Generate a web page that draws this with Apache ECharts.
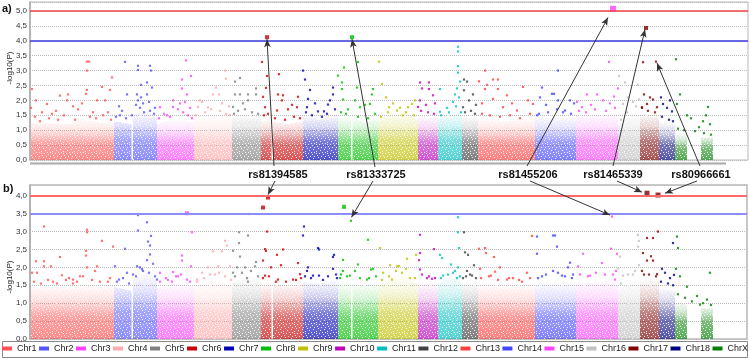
<!DOCTYPE html>
<html>
<head>
<meta charset="utf-8">
<script src="https://cdn.jsdelivr.net/npm/echarts@6/dist/echarts.min.js"></script>
<style>
  html, body { margin: 0; padding: 0; background: #fff; }
  #chart { width: 750px; height: 359px; }
</style>
</head>
<body>
<div id="chart"></div>
<script>
// chromosome names and colours
const chromosomes = ['Chr1', 'Chr2', 'Chr3', 'Chr4', 'Chr5', 'Chr6', 'Chr7', 'Chr8', 'Chr9', 'Chr10',
  'Chr11', 'Chr12', 'Chr13', 'Chr14', 'Chr15', 'Chr16', 'Chr17', 'Chr18', 'ChrX']
const chrColors = ['#ff5050', '#5555ff', '#ff44ff', '#ffaaaa', '#808080', '#cc0000', '#0000bb', '#00c000', '#c0c000', '#c000c0',
  '#00c0c0', '#404040', '#ff4040', '#4444ff', '#ff44ff', '#c0c0c0', '#800000', '#000080', '#008000']

// dense low -log10(P) band, [position, upper height] ('-' = gap)
const bandA = [
  [[1, 1.25], [40, 1.2], [55, 1.4], [70, 1.25], [84, 1.25]],
  [[84, 1.3], [101.5, 1.2], [102, '-'], [103, 1.5], [115, 1.7], [127, 1.4]],
  [[127, 1.2], [145, 1.4], [164, 1.25]],
  [[164, 1.3], [185, 1.55], [202, 1.4]],
  [[202, 1.4], [220, 1.6], [231, 1.4]],
  [[231, 1.3], [241.5, 1.4], [242, '-'], [243, 1.3], [258, 1.2], [273, 1.3]],
  [[273, 1.5], [290, 1.35], [308, 1.55]],
  [[308, 1.4], [321, 1.5], [321.5, '-'], [322.5, 1.4], [335, 1.25], [348, 1.4]],
  [[348, 1.3], [368, 1.7], [388, 1.35]],
  [[388, 1.5], [408, 1.4]],
  [[408, 1.35], [428, 1.7], [432, 1.45]],
  [[432, 1.5], [448, 1.5]],
  [[448, 1.4], [475, 1.3], [505, 1.4]],
  [[505, 1.4], [530, 1.5], [546, 1.4]],
  [[546, 1.5], [570, 1.5], [588, 1.6]],
  [[588, 1.15], [600, 1.5], [610, 1.7]],
  [[610, 1.6], [629, 1.5]],
  [[629, 1.3], [645, 1.15]],
  [[645, 0.95], [657, 0.85], [658, '-'], [671, 0.75], [683, 0.75]]
]
const bandB = [
  [[1, 1.45], [40, 1.45], [56, 1.55], [84, 1.45]],
  [[84, 1.45], [101.5, 1.35], [102, '-'], [103, 1.65], [116, 1.9], [127, 1.6]],
  [[127, 1.45], [145, 1.6], [164, 1.45]],
  [[164, 1.45], [185, 1.7], [202, 1.55]],
  [[202, 1.55], [220, 1.8], [231, 1.6]],
  [[231, 1.55], [241.5, 1.6], [242, '-'], [243, 1.55], [258, 1.45], [273, 1.55]],
  [[273, 1.6], [290, 1.55], [308, 1.7]],
  [[308, 1.6], [321, 1.6], [321.5, '-'], [322.5, 1.55], [335, 1.55], [348, 1.6]],
  [[348, 1.45], [368, 1.8], [388, 1.55]],
  [[388, 1.6], [408, 1.55]],
  [[408, 1.55], [428, 1.8], [432, 1.55]],
  [[432, 1.6], [448, 1.6]],
  [[448, 1.55], [475, 1.55], [505, 1.55]],
  [[505, 1.55], [530, 1.6], [546, 1.6]],
  [[546, 1.6], [570, 1.6], [588, 1.7]],
  [[588, 1.35], [600, 1.6], [610, 1.8]],
  [[610, 1.7], [629, 1.6]],
  [[629, 1.45], [645, 1.35]],
  [[645, 1.1], [657, 0.95], [658, '-'], [671, 0.85], [683, 0.85]]
]

// scattered SNPs above the band, panel a
const pointsA = [
  [[57, 3.3], [59, 3.3], [57, 3.0], [2, 2.38], [6, 2.0], [30, 2.16], [38, 2.2], [37, 2.0], [56, 2.22], [57, 2.35], [72, 2.45], [80, 2.35], [82, 2.77], [17, 1.88], [22, 1.55], [43, 1.8], [67, 2.0], [75, 2.0], [1, 1.75], [12, 1.6], [26, 1.65], [48, 1.7], [63, 1.6], [78, 1.6], [52, 1.9]],
  [[95, 3.29], [108, 3.16], [108, 3.02], [120, 3.16], [121, 3.0], [117, 2.6], [111, 2.52], [122, 2.43], [97, 2.2], [107, 2.2], [108, 2.0], [111, 2.1], [89, 1.8], [117, 2.2], [125, 1.75], [102, 1.5], [113, 1.9], [119, 1.95], [106, 1.85], [92, 1.65]],
  [[156, 3.34], [161, 2.82], [152, 2.7], [152, 2.4], [157, 2.2], [143, 2.0], [143, 1.78], [130, 1.77], [137, 1.5], [160, 1.75], [150, 1.9], [155, 1.95], [148, 1.7]],
  [[195, 3.0], [196, 2.73], [186, 2.43], [183, 2.2], [189, 2.2], [170, 2.0], [168, 1.78], [172, 1.95], [178, 1.77], [192, 1.9], [199, 1.8]],
  [[205, 2.63], [210, 2.75], [205, 2.2], [210, 2.2], [218, 2.2], [203, 1.78], [226, 2.4], [218, 2.0], [226, 2.2], [213, 1.9]],
  [[232, 3.29], [237, 2.82], [249, 2.88], [236, 2.42], [233, 2.12], [248, 2.2], [253, 2.17], [268, 2.12], [252, 2.0], [267, 1.77], [235, 1.77], [247, 1.66], [258, 1.7], [262, 1.85]],
  [[273, 3.0], [275, 2.7], [280, 2.35], [278, 2.05], [303, 2.43], [303, 2.2], [298, 1.86], [288, 1.63], [294, 1.63], [277, 1.77], [285, 1.9], [300, 2.0]],
  [[328, 3.29], [314, 3.1], [308, 2.83], [312, 2.6], [312, 2.38], [327, 2.43], [343, 2.38], [342, 2.2], [325, 2.0], [313, 2.03], [330, 1.77], [340, 1.88], [318, 1.7], [335, 1.85]],
  [[349, 3.3], [352, 2.55], [356, 2.1], [359, 1.77], [378, 1.77], [382, 1.88], [367, 1.66], [373, 1.5], [363, 1.9], [385, 2.0]],
  [[390, 2.6], [399, 2.6], [399, 2.38], [392, 2.4], [390, 2.0], [403, 2.17], [388, 1.78], [396, 1.85], [405, 1.9]],
  [[428, 3.8], [428, 3.64], [428, 3.15], [428, 2.93], [425, 2.2], [430, 2.63], [410, 2.38], [423, 1.95], [417, 1.75], [410, 1.62], [427, 2.4], [429, 2.1]],
  [[434, 2.7], [437, 2.63], [434, 2.34], [443, 2.2], [439, 2.0], [433, 1.77], [446, 1.85]],
  [[455, 3.0], [449, 2.64], [457, 2.52], [455, 2.38], [468, 2.7], [468, 2.38], [463, 2.7], [493, 2.45], [463, 2.05], [477, 2.17], [498, 2.0], [503, 1.88], [473, 1.77], [487, 1.66], [452, 1.9], [482, 1.9]],
  [[528, 3.0], [512, 2.43], [522, 2.22], [524, 2.22], [510, 2.1], [528, 2.0], [540, 2.0], [535, 1.66], [507, 1.5], [516, 1.85], [544, 1.9]],
  [[579, 3.29], [584, 2.13], [588, 2.4], [557, 2.2], [567, 2.2], [547, 1.95], [573, 2.0], [552, 1.77], [561, 1.85], [580, 1.9]],
  [[589, 2.82], [595, 2.6], [608, 2.52], [598, 2.1], [609, 2.03], [593, 1.88], [603, 1.95]],
  [[613, 3.28], [626, 3.3], [614, 2.2], [623, 2.03], [617, 1.88], [612, 1.77], [627, 1.77], [620, 2.1]],
  [[631, 2.1], [642, 1.63], [633, 1.88], [640, 2.0], [637, 1.75]],
  [[646, 3.38], [650, 2.2], [647, 1.88], [678, 1.78], [657, 1.5], [673, 1.3], [680, 1.2], [665, 0.97], [661, 1.4], [669, 1.1], [676, 1.5]]
]
// SNPs just above the dense band, panel a
const fringeA = [
  [[5, 1.45], [10, 1.3], [19, 1.4], [28, 1.35], [34, 1.5], [45, 1.35], [60, 1.45], [66, 1.4], [73, 1.5], [81, 1.35]],
  [[86, 1.45], [90, 1.5], [96, 1.4], [110, 1.75], [114, 1.6], [120, 1.65], [124, 1.55]],
  [[129, 1.4], [134, 1.55], [140, 1.45], [153, 1.6], [158, 1.5], [162, 1.4]],
  [[166, 1.5], [175, 1.6], [181, 1.7], [190, 1.65], [196, 1.55], [200, 1.5]],
  [[204, 1.55], [208, 1.65], [215, 1.7], [222, 1.6], [228, 1.55]],
  [[234, 1.5], [238, 1.55], [245, 1.4], [255, 1.35], [264, 1.45], [270, 1.4]],
  [[276, 1.6], [282, 1.5], [292, 1.45], [297, 1.55], [305, 1.7]],
  [[311, 1.6], [316, 1.55], [328, 1.45], [338, 1.4], [345, 1.55]],
  [[351, 1.45], [358, 1.6], [370, 1.75], [376, 1.6], [384, 1.5]],
  [[391, 1.65], [398, 1.6], [404, 1.55]],
  [[411, 1.5], [419, 1.6], [426, 1.8], [431, 1.6]],
  [[435, 1.6], [441, 1.65], [445, 1.55]],
  [[452, 1.55], [460, 1.5], [470, 1.45], [480, 1.5], [490, 1.4], [500, 1.55]],
  [[509, 1.55], [518, 1.6], [527, 1.7], [533, 1.6], [541, 1.55]],
  [[549, 1.65], [556, 1.6], [565, 1.7], [576, 1.65], [585, 1.75]],
  [[591, 1.35], [597, 1.6], [606, 1.8]],
  [[612, 1.75], [618, 1.65], [625, 1.6]],
  [[632, 1.45], [639, 1.35], [643, 1.3]],
  [[648, 1.05], [654, 1.0], [674, 0.9], [681, 0.85]]
]
// scattered SNPs above the band, panel b
const pointsB = [
  [[14, 3.14], [57, 3.05], [57, 2.98], [72, 2.74], [83, 2.58], [30, 2.29], [56, 2.46], [56, 2.33], [6, 2.17], [14, 2.17], [14, 2.03], [21, 2.03], [2, 1.85], [7, 1.85], [32, 1.78], [57, 2.0], [67, 2.03], [65, 1.9], [23, 1.6], [43, 1.66], [43, 1.55], [78, 1.6], [50, 1.75], [36, 1.65]],
  [[108, 3.46], [117, 3.26], [108, 3.03], [95, 2.52], [118, 2.72], [120, 2.61], [117, 2.2], [120, 2.36], [121, 2.88], [85, 2.03], [107, 2.03], [110, 2.0], [123, 2.1], [97, 1.85], [89, 1.66], [127, 1.66], [113, 1.9], [103, 1.8]],
  [[162, 2.98], [152, 2.33], [152, 2.19], [161, 2.03], [143, 1.87], [130, 1.85], [157, 1.66], [142, 1.6], [136, 1.7], [148, 1.75]],
  [[195, 2.74], [197, 2.61], [183, 2.45], [192, 2.45], [188, 2.03], [178, 2.0], [172, 1.85], [200, 2.03], [167, 1.66], [185, 1.8]],
  [[219, 3.49], [209, 2.98], [209, 2.68], [203, 2.46], [218, 2.89], [210, 2.3], [207, 2.0], [215, 2.0], [203, 1.85], [218, 1.6], [226, 2.15], [225, 2.03], [217, 1.7]],
  [[237, 3.0], [235, 2.51], [236, 2.46], [233, 2.19], [253, 2.5], [247, 2.35], [268, 2.12], [270, 1.81], [251, 2.06], [241, 2.0], [235, 1.77], [248, 1.66], [263, 1.66]],
  [[274, 3.14], [273, 2.89], [288, 2.54], [289, 2.5], [304, 2.35], [303, 2.29], [278, 2.0], [277, 1.9], [283, 1.77], [289, 1.77], [303, 1.96], [307, 1.7]],
  [[321, 3.3], [338, 2.77], [313, 2.21], [328, 2.08], [325, 1.9], [343, 1.96], [341, 1.94], [313, 1.9], [320, 1.77], [337, 1.66], [310, 1.7]],
  [[350, 2.54], [377, 2.24], [386, 2.35], [367, 2.03], [360, 2.06], [369, 2.04], [376, 1.96], [353, 1.85], [362, 1.66], [380, 1.7]],
  [[390, 2.91], [390, 2.4], [404, 2.51], [389, 2.2], [390, 1.94], [402, 1.68], [397, 1.7]],
  [[428, 3.4], [428, 2.98], [429, 2.54], [410, 2.35], [412, 2.26], [421, 2.08], [428, 2.0], [423, 1.85], [413, 1.77], [427, 1.7]],
  [[434, 2.98], [435, 2.42], [438, 2.35], [444, 2.06], [437, 1.9], [442, 1.77], [433, 1.7]],
  [[449, 2.52], [455, 2.54], [456, 2.4], [464, 2.29], [450, 1.96], [461, 1.77], [465, 1.88], [502, 2.88], [497, 1.85], [483, 1.7], [492, 1.6], [477, 1.66], [470, 2.0]],
  [[507, 2.86], [523, 2.89], [525, 2.89], [527, 2.58], [507, 2.38], [538, 2.0], [540, 2.13], [523, 1.9], [512, 1.75], [532, 1.77], [543, 1.8]],
  [[582, 3.42], [581, 2.52], [572, 2.12], [587, 2.38], [583, 1.8], [585, 1.66], [553, 2.38], [548, 2.03], [560, 1.77]],
  [[608, 2.91], [609, 2.74], [608, 2.58], [590, 2.3], [588, 1.97], [609, 2.06], [593, 1.77], [603, 1.8]],
  [[628, 3.0], [623, 2.82], [617, 2.82], [613, 2.4], [621, 2.31], [617, 2.19], [623, 2.19], [614, 1.8], [627, 1.81]],
  [[643, 2.68], [632, 1.96], [635, 1.85], [640, 1.7], [644, 1.79]],
  [[647, 2.86], [648, 2.54], [646, 1.96], [650, 1.75], [657, 1.46], [680, 1.85], [667, 1.2], [677, 1.1], [670, 0.96], [662, 1.05]]
]
// SNPs just above the dense band, panel b
const fringeB = [
  [[4, 1.6], [11, 1.55], [18, 1.65], [27, 1.55], [39, 1.7], [47, 1.6], [53, 1.75], [62, 1.65], [70, 1.6], [80, 1.7]],
  [[87, 1.6], [93, 1.7], [99, 1.55], [106, 1.75], [112, 1.95], [119, 1.85], [125, 1.75]],
  [[130, 1.6], [138, 1.65], [146, 1.75], [151, 1.8], [160, 1.6]],
  [[167, 1.6], [174, 1.7], [180, 1.8], [189, 1.85], [195, 1.75], [201, 1.65]],
  [[205, 1.75], [212, 1.85], [221, 1.9], [228, 1.75]],
  [[233, 1.7], [239, 1.75], [246, 1.6], [256, 1.6], [266, 1.65], [271, 1.7]],
  [[275, 1.75], [281, 1.7], [293, 1.65], [298, 1.75], [306, 1.8]],
  [[311, 1.8], [317, 1.75], [330, 1.7], [339, 1.7], [346, 1.75]],
  [[352, 1.65], [359, 1.75], [366, 1.9], [372, 1.85], [385, 1.7]],
  [[392, 1.8], [399, 1.75], [405, 1.7]],
  [[411, 1.7], [418, 1.8], [425, 1.9], [430, 1.75]],
  [[436, 1.75], [440, 1.8], [446, 1.7]],
  [[451, 1.7], [459, 1.75], [468, 1.65], [479, 1.7], [489, 1.65], [500, 1.7]],
  [[508, 1.7], [516, 1.8], [528, 1.85], [535, 1.75], [542, 1.7]],
  [[550, 1.8], [558, 1.75], [566, 1.85], [575, 1.8], [586, 1.9]],
  [[591, 1.55], [598, 1.8], [605, 1.9]],
  [[612, 1.9], [619, 1.8], [626, 1.75]],
  [[631, 1.6], [638, 1.55], [643, 1.5]],
  [[648, 1.25], [655, 1.15], [673, 1.0], [681, 0.95]]
]

// highlighted SNPs: chromosome index + [position, -log10(P)]
const hitsAChr = [5, 7, 14, 16]
const hitsA = [[237, 4.12], [322, 4.12], [583, 5.07], [616, 4.43]]
const hitsBChr = [5, 5, 7, 2, 16, 16]
const hitsB = [[238, 3.95], [233, 3.67], [314, 3.69], [157, 3.51], [617, 4.07], [628, 4.02]]

// annotated SNPs and the point each arrow reaches in a) and b)
const snpNames = ['rs81394585', 'rs81333725', 'rs81455206', 'rs81465339', 'rs80966661']
const snpTargetA = [[237, 4.05], [322, 4.05], [578, 4.78], [615, 4.38], [627, 3.25]]
const snpTargetB = [[238, 4.03], [321.5, 3.4], [580, 3.46], [612, 4.1], [635, 4.07]]

// significance thresholds [red, blue]
const thresholdA = [5.0, 4.0]
const thresholdB = [4.0, 3.5]

function rgba(hex, a) {
  let n = parseInt(hex.slice(1), 16)
  return 'rgba(' + (n >> 16 & 255) + ',' + (n >> 8 & 255) + ',' + (n & 255) + ',' + a + ')'
}

// small white-speck tile laid over the dense bands, so they read as many dots
function speckTile() {
  let cv = document.createElement('canvas')
  cv.width = 11
  cv.height = 9
  let ctx = cv.getContext('2d')
  ctx.fillStyle = 'rgba(255,255,255,0.85)'
  let specks = [[0, 0], [4, 1], [8, 0], [2, 3], [6, 3], [10, 4], [1, 6], [5, 5], [8, 7], [3, 8], [9, 2], [6, 8]]
  specks.forEach(s => ctx.fillRect(s[0], s[1], 1, 1))
  return cv
}
let tile = speckTile()

let labelPosX = [278, 376, 528, 613, 701]
let arrowFromA = [[274, 166], [375, 167], [527, 166], [613, 166], [700, 166]]
let arrowFromB = [[275, 181], [373, 181], [530, 181], [617, 181], [697, 181]]

let myChart = echarts.init(document.getElementById('chart'))

let series = []
let panels = [
  { band: bandA, points: pointsA, fringe: fringeA, hits: hitsA, hitsChr: hitsAChr, target: snpTargetA, from: arrowFromA, th: thresholdA,
    red: '#ee4444', blue: '#3a3ae0', thw: 1.5, hitSize: [4, 4, 6, 4] },
  { band: bandB, points: pointsB, fringe: fringeB, hits: hitsB, hitsChr: hitsBChr, target: snpTargetB, from: arrowFromB, th: thresholdB,
    red: '#ff6a6a', blue: '#8c8cff', thw: 2, hitSize: [4, 4, 4, 4, 5, 5] }
]

panels.forEach((p, k) => {
  chromosomes.forEach((name, i) => {
    let c = chrColors[i]
    let bandBase = {
      name: name,
      type: 'line',
      xAxisIndex: k,
      yAxisIndex: k,
      data: p.band[i],
      symbol: 'none',
      silent: true,
      connectNulls: false,
      lineStyle: { width: 0, opacity: 0 },
      z: 1
    }
    series.push(Object.assign({}, bandBase, {
      areaStyle: {
        color: new echarts.graphic.LinearGradient(0, 0, 0, 1, [
          { offset: 0, color: rgba(c, 0.0) },
          { offset: 0.3, color: rgba(c, 0.25) },
          { offset: 0.6, color: rgba(c, 0.75) },
          { offset: 1, color: rgba(c, 0.95) }
        ])
      }
    }))
    series.push(Object.assign({}, bandBase, {
      areaStyle: { color: { image: tile, repeat: 'repeat' }, opacity: 1 }
    }))
    series.push({
      name: name,
      type: 'scatter',
      xAxisIndex: k,
      yAxisIndex: k,
      data: p.points[i].concat(p.fringe[i]),
      symbol: 'rect',
      symbolSize: 2.2,
      silent: true,
      itemStyle: { color: c },
      z: 2
    })
  })

  let lines = [
    { yAxis: p.th[0], lineStyle: { color: p.red, width: p.thw, type: 'solid' } },
    { yAxis: p.th[1], lineStyle: { color: p.blue, width: p.thw, type: 'solid' } }
  ]
  p.target.forEach((t, j) => {
    lines.push([
      { x: p.from[j][0], y: p.from[j][1], symbol: 'none' },
      { coord: t, symbol: 'arrow', symbolSize: [5, 8], lineStyle: { color: '#333', width: 1, type: 'solid' } }
    ])
  })

  series.push({
    name: 'hits' + k,
    type: 'scatter',
    xAxisIndex: k,
    yAxisIndex: k,
    clip: false,
    symbol: 'rect',
    silent: true,
    data: p.hits.map((h, j) => ({
      value: h,
      symbolSize: p.hitSize[j],
      itemStyle: { color: chrColors[p.hitsChr[j]] }
    })),
    z: 4,
    markLine: {
      silent: true,
      animation: false,
      symbol: 'none',
      label: { show: false },
      emphasis: { disabled: true },
      lineStyle: { color: '#333', width: 1, type: 'solid' },
      data: lines
    }
  })
})

let yLabel = v => {
  if (Math.abs(v * 2 - Math.round(v * 2)) > 1e-6) return ''
  return v.toFixed(1).replace('.', ',')
}
let yAxisBase = {
  type: 'value',
  min: 0,
  interval: 0.5,
  axisLine: { show: true, lineStyle: { color: '#aaa', width: 1.5 } },
  axisTick: { show: false },
  axisLabel: { fontSize: 8, color: '#333', margin: 3, fontFamily: 'Liberation Sans', formatter: yLabel },
  splitLine: { show: true, lineStyle: { type: 'dotted', color: '#bbb' } }
}

let graphics = [
  { type: 'text', left: 2, top: 3, style: { text: 'a)', font: 'bold 11px Liberation Sans', fill: '#111' } },
  { type: 'text', left: 3, top: 183, style: { text: 'b)', font: 'bold 11px Liberation Sans', fill: '#111' } },
  { type: 'text', x: 10, y: 68, rotation: Math.PI / 2, style: { text: '-log10(P)', font: '8px Liberation Sans', fill: '#222', align: 'center', verticalAlign: 'middle' } },
  { type: 'text', x: 10, y: 277, rotation: Math.PI / 2, style: { text: '-log10(P)', font: '8px Liberation Sans', fill: '#222', align: 'center', verticalAlign: 'middle' } },
  { type: 'line', shape: { x1: 30, y1: 163.5, x2: 726, y2: 163.5 }, style: { stroke: '#aaa', lineWidth: 2 } },
  { type: 'rect', shape: { x: 2.5, y: 341.5, width: 745, height: 16 }, style: { fill: 'none', stroke: '#888', lineWidth: 1 } }
]
snpNames.forEach((s, j) => {
  graphics.push({
    type: 'text', x: labelPosX[j], y: 175,
    style: { text: s, font: 'bold 11px Liberation Sans', fill: '#111', align: 'center', verticalAlign: 'middle' }
  })
})

let option = {
  animation: false,
  grid: [
    { left: 30, right: 2, top: 2, height: 158, show: true, borderColor: '#b8b8b8', borderWidth: 1 },
    { left: 30, right: 3, top: 185, height: 154, show: true, borderColor: '#b8b8b8', borderWidth: 1.5 }
  ],
  xAxis: [
    { gridIndex: 0, type: 'value', min: 0, max: 718, show: false },
    { gridIndex: 1, type: 'value', min: 0, max: 717, show: false }
  ],
  yAxis: [
    Object.assign({}, yAxisBase, { gridIndex: 0, max: 5.3 }),
    Object.assign({}, yAxisBase, { gridIndex: 1, max: 4.3 })
  ],
  legend: {
    data: chromosomes.map((n, i) => ({ name: n, itemStyle: { color: chrColors[i], opacity: 1 } })),
    selectedMode: false,
    left: 'center',
    top: 344,
    icon: 'rect',
    itemWidth: 10,
    itemHeight: 4,
    itemGap: 2.5,
    padding: 0,
    textStyle: { fontSize: 9, color: '#222', fontFamily: 'Liberation Sans' }
  },
  graphic: graphics,
  series: series
}

myChart.setOption(option)
</script>
</body>
</html>
